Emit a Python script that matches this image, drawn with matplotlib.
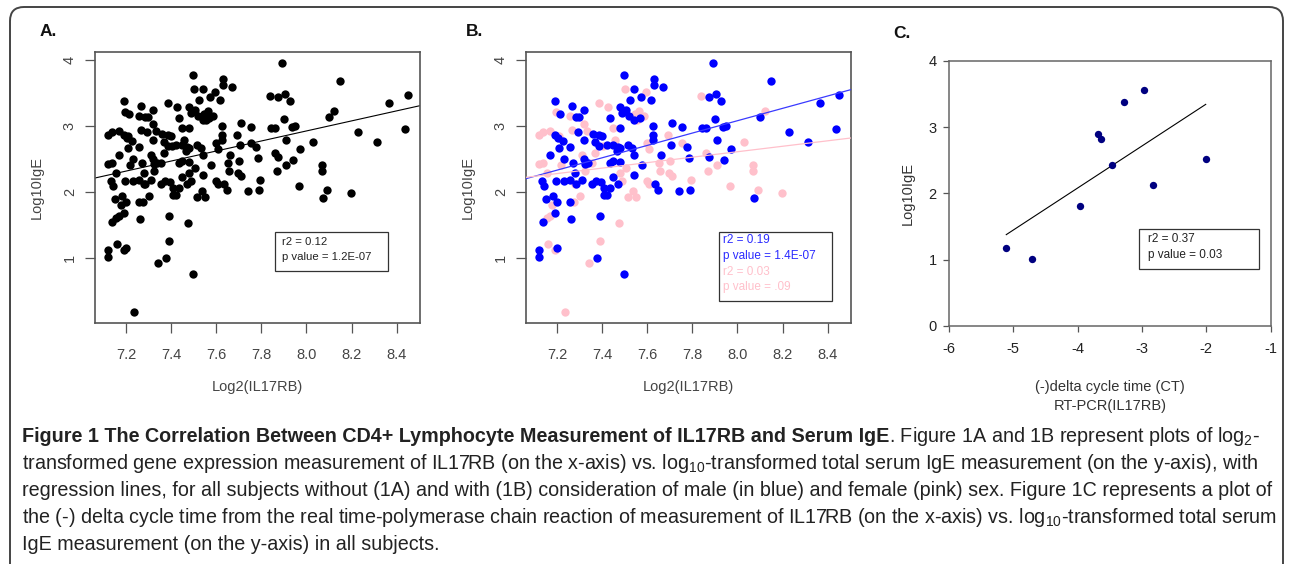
import matplotlib
matplotlib.use('Agg')
import matplotlib.pyplot as plt
import numpy as np
from matplotlib import font_manager
from matplotlib.patches import Rectangle, FancyBboxPatch

# ---- data ----
# panel B, male subjects (blue): log2(IL17RB), log10(IgE)
male_x = [7.120, 7.120, 7.135, 7.141, 7.138, 7.153, 7.168, 7.182, 7.192, 7.193,
          7.193, 7.205, 7.196, 7.200, 7.200, 7.209, 7.215, 7.225, 7.233, 7.230,
          7.256, 7.259, 7.263, 7.268, 7.270, 7.260, 7.281, 7.286, 7.294, 7.297,
          7.309, 7.318, 7.321, 7.325, 7.336, 7.318, 7.286, 7.355, 7.358, 7.367,
          7.373, 7.377, 7.387, 7.387, 7.390, 7.400, 7.395, 7.410, 7.410, 7.420,
          7.420, 7.436, 7.436, 7.436, 7.450, 7.450, 7.450, 7.466, 7.470, 7.469,
          7.478, 7.478, 7.480, 7.480, 7.490, 7.498, 7.498, 7.504, 7.516, 7.525,
          7.520, 7.532, 7.540, 7.540, 7.540, 7.542, 7.569, 7.574, 7.576, 7.616,
          7.624, 7.624, 7.625, 7.630, 7.630, 7.635, 7.650, 7.662, 7.668, 7.706,
          7.712, 7.743, 7.752, 7.777, 7.786, 7.789, 7.842, 7.860, 7.876, 7.876,
          7.891, 7.900, 7.903, 7.911, 7.925, 7.935, 7.941, 7.950, 7.970, 8.075,
          8.100, 8.149, 8.227, 8.314, 8.366, 8.437, 8.450]
male_y = [1.12, 1.015, 2.177, 2.09, 1.545, 1.904, 2.56, 1.94, 1.69, 3.38,
          2.87, 2.82, 2.17, 1.86, 1.16, 2.67, 3.18, 2.77, 2.50, 2.17,
          1.85, 2.68, 1.59, 3.31, 2.44, 2.19, 2.29, 3.14, 2.92, 3.14,
          2.19, 2.80, 3.24, 2.43, 2.44, 2.50, 2.12, 2.12, 2.89, 2.76,
          2.17, 1.00, 2.87, 2.70, 1.64, 2.85, 2.15, 2.07, 1.96, 1.96,
          2.71, 3.13, 2.07, 2.45, 2.47, 2.72, 2.23, 2.62, 2.69, 2.12,
          2.97, 2.67, 3.30, 2.46, 3.20, 3.78, 0.76, 3.24, 2.72, 3.40,
          3.16, 2.67, 3.57, 2.57, 2.26, 3.09, 3.13, 3.44, 2.42, 3.40,
          2.80, 2.87, 3.01, 3.71, 3.63, 2.12, 2.03, 2.56, 3.59, 2.71,
          3.05, 2.02, 2.99, 2.69, 2.52, 2.03, 2.97, 2.97, 2.53, 3.44,
          3.96, 3.11, 3.49, 2.79, 3.39, 2.99, 2.49, 3.01, 2.66, 1.92,
          3.14, 3.69, 2.91, 2.76, 3.35, 2.96, 3.48]

# panel B, female subjects (pink)
female_x = [7.120, 7.120, 7.140, 7.170, 7.140, 7.156, 7.159, 7.156, 7.170, 7.180,
            7.190, 7.196, 7.210, 7.218, 7.238, 7.259, 7.266, 7.274, 7.280, 7.303,
            7.309, 7.321, 7.325, 7.333, 7.343, 7.355, 7.367, 7.386, 7.389, 7.402,
            7.427, 7.450, 7.458, 7.473, 7.480, 7.490, 7.503, 7.505, 7.517, 7.535,
            7.547, 7.550, 7.557, 7.564, 7.584, 7.594, 7.598, 7.600, 7.609, 7.609,
            7.652, 7.657, 7.694, 7.700, 7.697, 7.712, 7.752, 7.793, 7.840, 7.859,
            7.870, 7.910, 7.968, 8.030, 8.067, 8.070, 8.093, 8.120, 8.196]
female_y = [2.87, 2.43, 2.91, 2.93, 2.45, 2.29, 1.22, 1.61, 1.64, 1.81,
            1.12, 3.21, 2.85, 2.42, 0.18, 3.16, 2.95, 1.86, 2.13, 1.94,
            2.57, 3.03, 2.32, 2.93, 0.93, 2.44, 2.60, 3.35, 1.26, 2.70,
            3.30, 2.97, 2.80, 1.53, 2.30, 2.17, 3.57, 2.37, 1.93, 2.02,
            3.19, 1.93, 3.10, 3.23, 3.15, 3.52, 2.75, 2.17, 2.65, 2.13,
            2.45, 2.33, 2.87, 2.48, 2.29, 2.24, 2.75, 2.19, 3.46, 2.59,
            2.33, 2.42, 2.10, 2.76, 2.33, 2.42, 2.04, 3.23, 1.99]

# regression lines as drawn (slope, intercept)
fit_all = (0.761, -3.158)
fit_male = (0.937, -4.411)
fit_female = (0.414, -0.697)

# panel C: RT-PCR subjects
pcr_x = [-5.11, -4.71, -3.96, -3.68, -3.63, -3.47, -3.285, -2.974, -2.834, -2.01]
pcr_y = [1.17, 1.014, 1.81, 2.90, 2.815, 2.43, 3.385, 3.566, 2.119, 2.512]
fit_pcr = (0.635, 4.621)
pcr_line_x = [-5.11, -2.01]

r_xticks = [7.2, 7.4, 7.6, 7.8, 8.0, 8.2, 8.4]
r_yticks = [1, 2, 3, 4]
c_xticks = [-6, -5, -4, -3, -2, -1]
c_yticks = [0, 1, 2, 3, 4]


def pick_font(names):
    for n in names:
        try:
            font_manager.findfont(font_manager.FontProperties(family=n),
                                  fallback_to_default=False)
            return n
        except Exception:
            pass
    return 'DejaVu Sans'


plot_font = pick_font(['Liberation Sans', 'Arial'])
cap_font = pick_font(['Liberation Sans Narrow', 'Liberation Sans'])
plt.rcParams['font.family'] = [plot_font, 'DejaVu Sans']

W, H = 1290, 564
fig = plt.figure(figsize=(W / 100, H / 100), dpi=100)

# rounded outer frame (bottom edge runs off the page)
frame = FancyBboxPatch((0.10, -0.3), 12.73, 5.87, boxstyle='round,pad=0,rounding_size=0.14',
                       transform=fig.dpi_scale_trans, fill=False, ec='#444444', lw=1.4)
fig.patches.append(frame)


def r_panel(ax):
    ax.set_xlim(7.063, 8.503)
    ax.set_ylim(0.02, 4.126)
    ax.set_xticks(r_xticks)
    ax.set_xticklabels(['%.1f' % v for v in r_xticks])
    ax.set_yticks(r_yticks)
    ax.tick_params(direction='out', length=7, width=0.9, color='#555555',
                   labelcolor='#444444', labelsize=10.5)
    ax.tick_params(axis='x', pad=11)
    ax.tick_params(axis='y', pad=6)
    for lab in ax.get_yticklabels():
        lab.set_rotation(90)
        lab.set_va('center')
    for s in ax.spines.values():
        s.set_color('#555555')
        s.set_linewidth(1.2)
    ax.set_xlabel('Log2(IL17RB)', fontsize=10.5, color='#444444', labelpad=13)
    ax.set_ylabel('Log10IgE', fontsize=10.5, color='#444444', labelpad=14)


def fline(ax, fit, xs, **kw):
    xs = np.array(xs)
    ax.plot(xs, fit[0] * xs + fit[1], **kw)


# ---- panel A ----
axA = fig.add_axes([95 / W, 1 - 323 / H, 325 / W, 271 / H])
r_panel(axA)
axA.scatter(male_x + female_x, male_y + female_y, s=36, c='black', lw=0, zorder=3)
fline(axA, fit_all, [7.063, 8.503], color='black', lw=0.8, zorder=2)
axA.add_patch(Rectangle((7.862, 0.803), 0.498, 0.591, fill=False, ec='#333333', lw=0.9, zorder=4))
axA.text(7.893, 1.25, 'r2 = 0.12', fontsize=8.2, color='#222222', va='center')
axA.text(7.893, 1.02, 'p value = 1.2E-07', fontsize=8.2, color='#222222', va='center')

# ---- panel B ----
axB = fig.add_axes([526 / W, 1 - 323 / H, 325 / W, 271 / H])
r_panel(axB)
axB.scatter(female_x, female_y, s=36, c='#ffc0cb', lw=0, zorder=3)
axB.scatter(male_x, male_y, s=36, c='#0000ff', lw=0, zorder=3)
fline(axB, fit_male, [7.063, 8.503], color='#3a3aff', lw=0.9, zorder=4)
fline(axB, fit_female, [7.063, 8.503], color='#ffc0cb', lw=0.9, zorder=4)
axB.add_patch(Rectangle((7.916, 0.359), 0.502, 1.04, fill=False, ec='#333333', lw=0.9, zorder=4))
for yv, txt, col in [(1.273, 'r2 = 0.19', '#2a2aff'), (1.03, 'p value = 1.4E-07', '#2a2aff'),
                     (0.798, 'r2 = 0.03', '#ffc0cb'), (0.566, 'p value = .09', '#ffc0cb')]:
    axB.text(7.935, yv, txt, fontsize=8.5, color=col, va='center')

# ---- panel C ----
axC = fig.add_axes([949 / W, 1 - 325.7 / H, 321.7 / W, 264.7 / H])
axC.set_xlim(-6, -1)
axC.set_ylim(0, 4)
axC.set_xticks(c_xticks)
axC.set_xticklabels([str(v) for v in c_xticks])
axC.set_yticks(c_yticks)
axC.tick_params(direction='out', length=4, width=0.9, color='#555555',
                labelcolor='#222222', labelsize=10.5)
axC.tick_params(axis='x', pad=8)
axC.tick_params(axis='y', pad=5)
for s in axC.spines.values():
    s.set_color('#666666')
    s.set_linewidth(1.1)
axC.scatter(pcr_x, pcr_y, s=28, c='#000080', lw=0, zorder=3)
fline(axC, fit_pcr, pcr_line_x, color='black', lw=0.8, zorder=2)
axC.add_patch(Rectangle((-3.041, 0.852), 1.865, 0.606, fill=False, ec='#333333', lw=0.9, zorder=4))
axC.text(-2.90, 1.31, 'r2 = 0.37', fontsize=8.5, color='#222222', va='center')
axC.text(-2.90, 1.07, 'p value = 0.03', fontsize=8.5, color='#222222', va='center')
axC.set_ylabel('Log10IgE', fontsize=10.5, color='#333333', labelpad=10)
fig.text(1110 / W, 1 - 387 / H, '(-)delta cycle time (CT)', fontsize=10.5, color='#333333',
         ha='center', va='center')
fig.text(1110 / W, 1 - 406 / H, 'RT-PCR(IL17RB)', fontsize=10.5, color='#333333',
         ha='center', va='center')

# panel letters
for xp, yp, lab in [(40, 31, 'A.'), (466, 31, 'B.'), (893, 33, 'C.')]:
    fig.text(xp / W, 1 - yp / H, lab, fontsize=12.5, fontweight='bold', color='#111111',
             va='center', ha='left')

# ---- caption ----
cap_lines = [
    [('Figure 1 The Correlation Between CD4+ Lymphocyte Measurement of IL17RB and Serum IgE', 'bold'),
     ('. Figure 1A and 1B represent plots of log$_{\\mathregular{2}}$-', 'normal')],
    [('transformed gene expression measurement of IL17RB (on the x-axis) vs. log$_{\\mathregular{10}}$'
      '-transformed total serum IgE measurement (on the y-axis), with', 'normal')],
    [('regression lines, for all subjects without (1A) and with (1B) consideration of male (in blue) '
      'and female (pink) sex. Figure 1C represents a plot of', 'normal')],
    [('the (-) delta cycle time from the real time-polymerase chain reaction of measurement of IL17RB '
      '(on the x-axis) vs. log$_{\\mathregular{10}}$-transformed total serum', 'normal')],
    [('IgE measurement (on the y-axis) in all subjects.', 'normal')],
]
cap_base = [442, 469, 496, 523, 550]

renderer = fig.canvas.get_renderer()
probe = fig.text(0, 0, cap_lines[1][0][0], fontsize=10, family=cap_font)
w10 = probe.get_window_extent(renderer=renderer).width
probe.remove()
cap_fs = 10 * 1240 / w10

for yb, segs in zip(cap_base, cap_lines):
    xp = 22
    for txt, wt in segs:
        t = fig.text(xp / W, 1 - yb / H, txt, fontsize=cap_fs, fontweight=wt, family=cap_font,
                     color='#222222', ha='left', va='baseline')
        xp += t.get_window_extent(renderer=renderer).width

fig.savefig('out.png', dpi=100)
